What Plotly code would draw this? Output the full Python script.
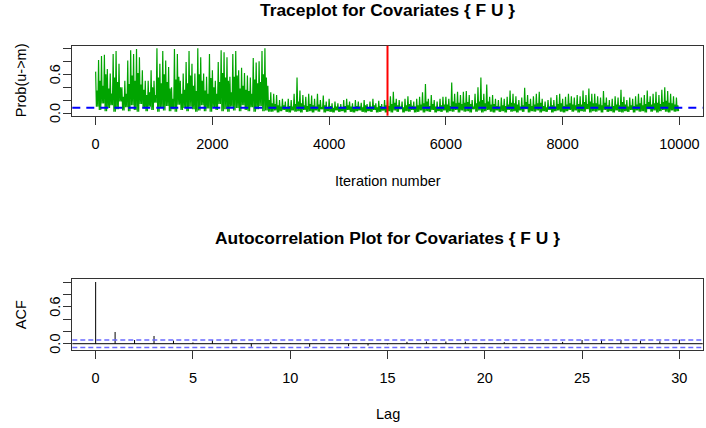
import plotly.graph_objects as go
from plotly.subplots import make_subplots

# traceplot in blocks of 50 iterations:
# highest spike, typical top of the dense band, and lowest value in each block
block_start = list(range(0, 10000, 50))
block_peak = [
    0.64, 0.82, 0.88, 0.90, 0.68, 0.61, 0.91, 0.96, 0.76, 0.40,
    0.50, 0.81, 0.97, 0.91, 0.99, 0.86, 0.66, 0.50, 0.50, 0.66,
    0.50, 1.00, 0.76, 0.96, 0.81, 0.71, 0.40, 0.99, 0.91, 0.50,
    0.61, 0.79, 0.96, 0.76, 0.61, 1.00, 0.86, 0.61, 0.56, 0.91,
    0.66, 0.50, 0.79, 0.97, 0.94, 0.86, 0.56, 0.91, 0.96, 0.66,
    0.70, 0.62, 0.58, 0.55, 0.85, 0.78, 0.80, 0.96, 1.00, 0.42,
    0.32, 0.30, 0.28, 0.20, 0.22, 0.18, 0.22, 0.20, 0.30, 0.55,
    0.35, 0.28, 0.25, 0.30, 0.27, 0.22, 0.30, 0.20, 0.27, 0.18,
    0.22, 0.15, 0.18, 0.15, 0.14, 0.20, 0.22, 0.18, 0.15, 0.20,
    0.18, 0.16, 0.20, 0.14, 0.18, 0.22, 0.15, 0.19, 0.14, 0.20,
    0.20, 0.26, 0.33, 0.22, 0.20, 0.18, 0.22, 0.26, 0.20, 0.18,
    0.22, 0.25, 0.32, 0.45, 0.22, 0.28, 0.20, 0.18, 0.22, 0.25,
    0.25, 0.22, 0.47, 0.30, 0.33, 0.28, 0.33, 0.34, 0.28, 0.20,
    0.30, 0.40, 0.55, 0.30, 0.44, 0.25, 0.28, 0.22, 0.20, 0.24,
    0.22, 0.25, 0.35, 0.30, 0.26, 0.20, 0.24, 0.39, 0.28, 0.22,
    0.26, 0.30, 0.33, 0.22, 0.18, 0.20, 0.24, 0.20, 0.28, 0.30,
    0.22, 0.25, 0.30, 0.26, 0.24, 0.28, 0.26, 0.35, 0.28, 0.38,
    0.30, 0.30, 0.26, 0.24, 0.34, 0.24, 0.20, 0.22, 0.26, 0.24,
    0.36, 0.25, 0.20, 0.24, 0.22, 0.26, 0.30, 0.24, 0.28, 0.35,
    0.26, 0.30, 0.33, 0.28, 0.36, 0.40, 0.34, 0.30, 0.26, 0.24,
]
block_band = [
    0.35, 0.50, 0.42, 0.60, 0.38, 0.30, 0.55, 0.48, 0.40, 0.25,
    0.30, 0.45, 0.58, 0.50, 0.62, 0.44, 0.36, 0.28, 0.32, 0.40,
    0.28, 0.55, 0.46, 0.60, 0.48, 0.38, 0.22, 0.52, 0.56, 0.30,
    0.36, 0.46, 0.58, 0.42, 0.34, 0.60, 0.50, 0.35, 0.30, 0.54,
    0.40, 0.30, 0.48, 0.62, 0.55, 0.50, 0.32, 0.56, 0.58, 0.38,
    0.42, 0.36, 0.34, 0.30, 0.52, 0.46, 0.48, 0.60, 0.55, 0.20,
    0.15, 0.14, 0.12, 0.10, 0.12, 0.09, 0.11, 0.10, 0.14, 0.18,
    0.15, 0.12, 0.11, 0.14, 0.12, 0.10, 0.13, 0.09, 0.12, 0.08,
    0.11, 0.08, 0.10, 0.09, 0.08, 0.11, 0.12, 0.10, 0.08, 0.11,
    0.10, 0.09, 0.12, 0.08, 0.10, 0.12, 0.09, 0.11, 0.08, 0.12,
    0.11, 0.14, 0.16, 0.12, 0.10, 0.09, 0.12, 0.14, 0.11, 0.10,
    0.12, 0.13, 0.15, 0.18, 0.11, 0.14, 0.10, 0.09, 0.12, 0.13,
    0.13, 0.11, 0.18, 0.15, 0.16, 0.14, 0.16, 0.17, 0.14, 0.10,
    0.15, 0.18, 0.20, 0.15, 0.18, 0.13, 0.14, 0.11, 0.10, 0.12,
    0.11, 0.13, 0.16, 0.15, 0.13, 0.10, 0.12, 0.17, 0.14, 0.11,
    0.13, 0.15, 0.16, 0.11, 0.09, 0.10, 0.12, 0.10, 0.14, 0.15,
    0.11, 0.13, 0.15, 0.13, 0.12, 0.14, 0.13, 0.17, 0.14, 0.18,
    0.15, 0.15, 0.13, 0.12, 0.16, 0.12, 0.10, 0.11, 0.13, 0.12,
    0.17, 0.13, 0.10, 0.12, 0.11, 0.13, 0.15, 0.12, 0.14, 0.17,
    0.13, 0.15, 0.16, 0.14, 0.17, 0.19, 0.16, 0.15, 0.13, 0.12,
]
block_low = [
    0.10, 0.05, 0.15, 0.03, 0.08, 0.12, 0.02, 0.06, 0.18, 0.04,
    0.09, 0.03, 0.12, 0.05, 0.02, 0.14, 0.07, 0.03, 0.10, 0.05,
    0.16, 0.02, 0.08, 0.04, 0.11, 0.03, 0.06, 0.02, 0.13, 0.05,
    0.08, 0.03, 0.10, 0.06, 0.02, 0.04, 0.12, 0.03, 0.07, 0.02,
    0.09, 0.05, 0.14, 0.03, 0.06, 0.02, 0.10, 0.04, 0.08, 0.03,
    0.12, 0.05, 0.03, 0.09, 0.02, 0.06, 0.11, 0.03, 0.04, 0.02,
    0.02, 0.04, 0.01, 0.03, 0.05, 0.02, 0.01, 0.04, 0.02, 0.03,
    0.01, 0.05, 0.02, 0.03, 0.01, 0.04, 0.02, 0.06, 0.01, 0.03,
    0.02, 0.01, 0.04, 0.02, 0.03, 0.01, 0.05, 0.02, 0.01, 0.03,
    0.04, 0.02, 0.01, 0.03, 0.02, 0.05, 0.01, 0.02, 0.04, 0.01,
    0.03, 0.01, 0.04, 0.02, 0.06, 0.01, 0.03, 0.02, 0.05, 0.01,
    0.02, 0.04, 0.01, 0.03, 0.02, 0.05, 0.01, 0.03, 0.02, 0.04,
    0.01, 0.03, 0.02, 0.05, 0.01, 0.04, 0.02, 0.03, 0.01, 0.06,
    0.02, 0.04, 0.01, 0.03, 0.05, 0.02, 0.01, 0.04, 0.02, 0.03,
    0.01, 0.05, 0.02, 0.03, 0.01, 0.04, 0.02, 0.06, 0.01, 0.03,
    0.02, 0.04, 0.01, 0.03, 0.02, 0.05, 0.01, 0.03, 0.04, 0.02,
    0.01, 0.03, 0.05, 0.02, 0.04, 0.01, 0.03, 0.02, 0.06, 0.01,
    0.03, 0.02, 0.04, 0.01, 0.05, 0.02, 0.03, 0.01, 0.04, 0.02,
    0.01, 0.03, 0.02, 0.05, 0.01, 0.04, 0.02, 0.03, 0.01, 0.06,
    0.02, 0.04, 0.01, 0.03, 0.05, 0.02, 0.01, 0.04, 0.02, 0.03,
]
burn_in = 5000
threshold = 0.083

# autocorrelation
lags = list(range(0, 31))
acf = [1.0, 0.19, 0.06, 0.125, 0.05, 0.02, 0.06, 0.065, -0.05, 0.03,
       0.005, -0.05, 0.01, -0.04, -0.03, -0.01, 0.03, 0.035, 0.035, 0.035,
       0.01, 0.025, 0.005, 0.01, 0.03, 0.06, 0.065, 0.06, 0.05, 0.04, 0.065]
conf_band = 0.06

y_ticks = [0, 0.2, 0.4, 0.6, 0.8, 1.0]
y_labels = {0: "0.0", 0.6: "0.6"}

font = "Liberation Sans, Arial, sans-serif"
W, H = 706, 428

trace_x, trace_y = [], []
for start, hi, lo, band in zip(block_start, block_peak, block_low, block_band):
    trace_x += [start, start + 12.5, start + 25, start + 37.5]
    trace_y += [hi, lo, band, lo]

acf_x, acf_y = [], []
for lag, r in zip(lags, acf):
    acf_x += [lag, lag, None]
    acf_y += [0, r, None]

fig = make_subplots(rows=2, cols=1)

fig.add_trace(go.Scatter(x=trace_x, y=trace_y, mode="lines",
                         line=dict(color="#00a400", width=1.2)), row=1, col=1)
fig.add_trace(go.Scatter(x=acf_x, y=acf_y, mode="lines",
                         line=dict(color="black", width=1)), row=2, col=1)

# reference lines
fig.add_shape(type="line", xref="x domain", yref="y", x0=0, x1=1, y0=threshold, y1=threshold,
              line=dict(color="#0000ff", width=2, dash="8px,6px"))
fig.add_shape(type="line", xref="x", yref="y domain", x0=burn_in, x1=burn_in, y0=0, y1=1,
              line=dict(color="#ff0000", width=2))
fig.add_shape(type="line", xref="x2 domain", yref="y2", x0=0, x1=1, y0=0, y1=0,
              line=dict(color="black", width=1))
for c in [conf_band, -conf_band]:
    fig.add_shape(type="line", xref="x2 domain", yref="y2", x0=0, x1=1, y0=c, y1=c,
                  line=dict(color="#6a6aff", width=1.5, dash="5px,3px"))

axis_style = dict(showline=True, mirror=True, linecolor="#333333", linewidth=1,
                  ticks="outside", ticklen=8, tickcolor="#333333", showgrid=False,
                  zeroline=False, tickfont=dict(family=font, size=14.5, color="black"))

fig.update_xaxes(axis_style)
fig.update_yaxes(axis_style)

fig.update_xaxes(domain=[72.3 / W, 702.7 / W], range=[-400, 10400],
                 tickvals=[0, 2000, 4000, 6000, 8000, 10000], tickformat="d",
                 ticklabelstandoff=7, row=1, col=1)
fig.update_yaxes(domain=[1 - 115.7 / H, 1 - 45.7 / H], range=[-0.04, 1.04],
                 tickvals=y_ticks, showticklabels=False, row=1, col=1)
fig.update_xaxes(domain=[72.3 / W, 702.7 / W], range=[-1.2, 31.2],
                 tickvals=[0, 5, 10, 15, 20, 25, 30], ticklabelstandoff=7, row=2, col=1)
fig.update_yaxes(domain=[1 - 350 / H, 1 - 279.3 / H], range=[-0.102, 1.044],
                 tickvals=y_ticks, showticklabels=False, row=2, col=1)

txt = dict(family=font, size=14.5, color="black")

# rotated y tick labels, R style
for yref in ["y", "y2"]:
    for v, lab in y_labels.items():
        fig.add_annotation(text=lab, xref="paper", yref=yref, x=45 / W, y=v,
                           textangle=-90, showarrow=False, font=txt)

# axis titles
fig.add_annotation(text="Iteration number", xref="paper", yref="paper", x=387.5 / W,
                   y=1 - 180.5 / H, showarrow=False, yanchor="middle", font=txt)
fig.add_annotation(text="Lag", xref="paper", yref="paper", x=387.5 / W,
                   y=1 - 413.5 / H, showarrow=False, yanchor="middle", font=txt)
fig.add_annotation(text="Prob(u->m)", xref="paper", yref="y domain", x=10.5 / W, y=0.5,
                   textangle=-90, showarrow=False, font=txt)
fig.add_annotation(text="ACF", xref="paper", yref="y2 domain", x=10.5 / W, y=0.5,
                   textangle=-90, showarrow=False, font=txt)

fig.add_annotation(text="<b>Traceplot for Covariates { F U }</b>", xref="paper", yref="paper",
                   x=387.5 / W, y=1 - 10 / H, showarrow=False, yanchor="middle",
                   font=dict(family=font, size=17.4, color="black"))
fig.add_annotation(text="<b>Autocorrelation Plot for Covariates { F U }</b>", xref="paper",
                   yref="paper", x=387.5 / W, y=1 - 238 / H, showarrow=False,
                   yanchor="middle", font=dict(family=font, size=17.4, color="black"))

fig.update_layout(width=W, height=H, margin=dict(l=0, r=0, t=0, b=0),
                  plot_bgcolor="white", paper_bgcolor="white", showlegend=False)

# page body has an 8px margin by default; drop it so the figure sits at the corner
fig.write_html("out.html", config={"displayModeBar": False},
               post_script="document.body.style.margin = '0px';")
